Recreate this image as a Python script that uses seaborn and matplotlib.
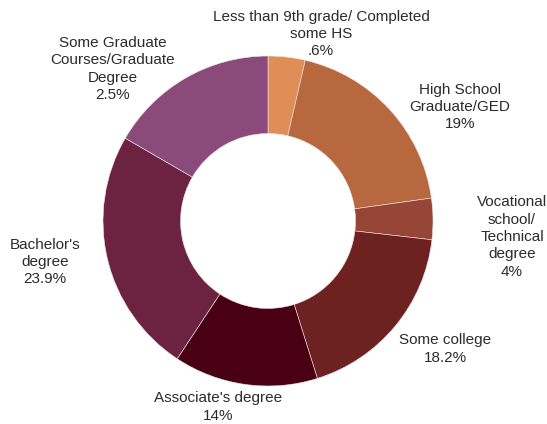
import numpy as np
import matplotlib
matplotlib.use("Agg")
import matplotlib.pyplot as plt
import seaborn as sns

# slice sizes (two of the printed labels are cut off in the source)
categories = ["Less than 9th grade/ Completed\nsome HS", "High School\nGraduate/GED",
              "Vocational\nschool/\nTechnical\ndegree", "Some college",
              "Associate's degree", "Bachelor's\ndegree",
              "Some Graduate\nCourses/Graduate\nDegree"]
shares = [3.6, 19.0, 4.0, 18.2, 14.0, 23.9, 16.5]
pct_labels = [".6%", "19%", "4%", "18.2%", "14%", "23.9%", "2.5%"]
colors = ["#E08E58", "#B8683F", "#974536", "#6E2121", "#4A0014", "#6C2341", "#8A4B7B"]

# label anchor points in pixel coords (x, y from top)
label_pos = [(321, 34), (460, 107), (512, 237), (445, 349), (218, 407), (45, 262), (113, 69)]

sns.set_style("white")
plt.rcParams["font.family"] = ["Liberation Sans", "DejaVu Sans"]

W, H = 547, 424
fig = plt.figure(figsize=(W / 100, H / 100), dpi=100)
ax = fig.add_axes([0, 0, 1, 1])
ax.set_xlim(0, W)
ax.set_ylim(0, H)
ax.set_aspect("equal")
ax.axis("off")

cx, cy, r = 268, H - 221, 165
ax.pie(shares, colors=colors, startangle=90, counterclock=False,
       center=(cx, cy), radius=r,
       wedgeprops=dict(width=r * 0.47, edgecolor="#f2e6e6", linewidth=0.4))

for name, pct, (px, py) in zip(categories, pct_labels, label_pos):
    ax.text(px, H - py, name + "\n" + pct, ha="center", va="center",
            fontsize=11, color="#2b2b2b", linespacing=1.3)

ax.set_xlim(0, W)
ax.set_ylim(0, H)
fig.savefig("out.png", dpi=100, facecolor="white")
